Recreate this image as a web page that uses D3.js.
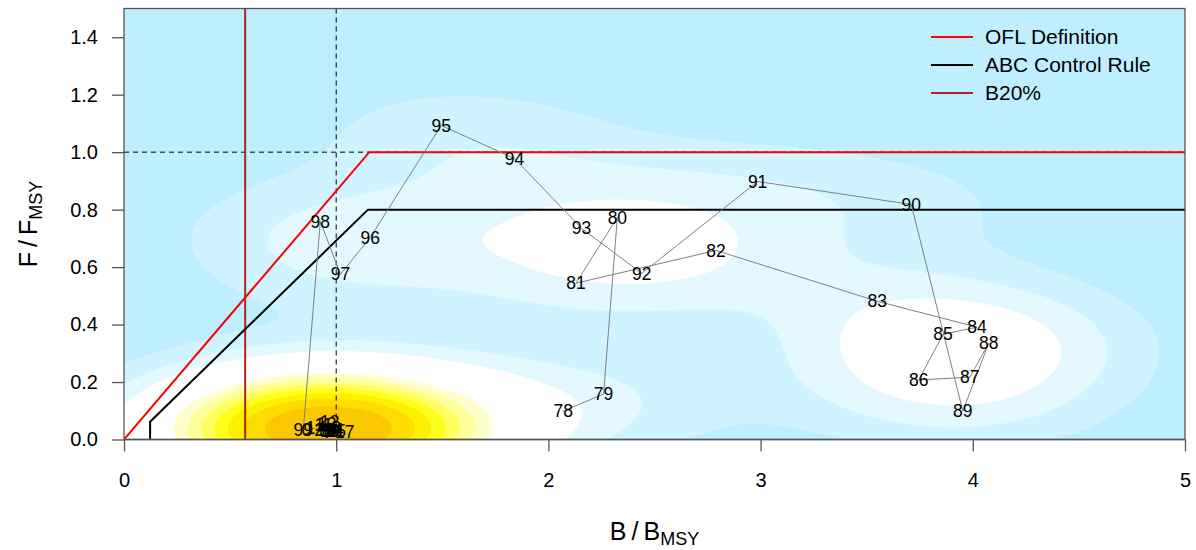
<!DOCTYPE html>
<html><head><meta charset="utf-8">
<script src="https://cdn.jsdelivr.net/npm/d3@7"></script>
<style>
body{margin:0;background:#fff;}
text{font-family:"Liberation Sans",Arial,sans-serif;fill:#000;}
</style></head>
<body><svg id="c" width="1196" height="550"></svg>
<script>
// ---------- data ----------
const yearLabels = ["78","79","80","81","82","83","84","85","86","87","88","89","90","91","92","93","94","95","96","97","98",
                    "99","0","1","2","3","4","5","6","7","8","9","10","11","12","13","14","15","16","17"];
const bRatio = [2.07,2.26,2.325,2.13,2.79,3.55,4.02,3.86,3.745,3.986,4.075,3.953,3.71,2.986,2.44,2.156,1.84,1.495,1.16,1.02,0.925,
                0.845,0.86,0.88,0.92,0.95,0.93,0.97,0.99,0.96,1.0,0.98,0.95,0.94,0.97,0.955,0.99,1.0,0.97,1.04];
const fRatio = [0.099,0.158,0.773,0.544,0.658,0.481,0.391,0.366,0.207,0.217,0.335,0.099,0.818,0.898,0.578,0.735,0.978,1.093,0.703,0.575,0.759,
                0.033,0.035,0.04,0.035,0.03,0.04,0.035,0.03,0.025,0.04,0.03,0.035,0.05,0.06,0.055,0.035,0.03,0.03,0.025];
const oflB = [0, 1.156, 5];
const oflF = [0, 1.0, 1.0];
const abcB = [0.123, 0.123, 1.15, 5];
const abcF = [0, 0.062, 0.8, 0.8];
const b20 = 0.571;
const xTicks = [0,1,2,3,4,5];
const yTicks = [0,0.2,0.4,0.6,0.8,1.0,1.2,1.4];
const legendLabels = ["OFL Definition","ABC Control Rule","B20%"];
const legendColors = ["#ff0000","#000000","#b22222"];
// kde2d-style bandwidths (B, F) and contour levels as fractions of the peak density
const kdeBandwidth = [2.12, 0.56];
const levelFractions = [0.055, 0.11, 0.17, 0.40, 0.47, 0.54, 0.61, 0.68, 0.76, 0.86];
const bandColors = ["#bfefff","#cff3ff","#e3f8ff","#ffffff","#ffffcc","#ffff99","#ffff5e","#ffff1e","#fff000","#ffdc00","#fbc700"];

// ---------- layout ----------
const svg = d3.select("#c");
const L=124, R=1185, T=8.5, B=439.5;
const x = d3.scaleLinear([0,5],[L,R]);
const y = d3.scaleLinear([0,1.5],[B,T]);

svg.append("clipPath").attr("id","clip").append("rect")
  .attr("x",L).attr("y",T).attr("width",R-L).attr("height",B-T);
const plot = svg.append("g").attr("clip-path","url(#clip)");

// ---------- kernel density (kde2d style) ----------
const sdx=kdeBandwidth[0]/4, sdy=kdeBandwidth[1]/4;
const nx=301, ny=91, sx=5/(nx-1), sy=1.5/(ny-1);
const vals=new Float64Array(nx*ny);
const n=bRatio.length;
for(let j=0;j<ny;j++){
  const gy=j*sy;
  for(let i=0;i<nx;i++){
    const gx=i*sx; let s=0;
    for(let k=0;k<n;k++){
      const dx=(gx-bRatio[k])/sdx, dy=(gy-fRatio[k])/sdy;
      s+=Math.exp(-0.5*(dx*dx+dy*dy));
    }
    vals[j*nx+i]=s/(n*2*Math.PI*sdx*sdy);
  }
}
const zmax=d3.max(vals);
const thresholds=levelFractions.map(f=>f*zmax);
const proj=d3.geoTransform({point(px,py){this.stream.point(x((px-0.5)*sx), y((py-0.5)*sy));}});
const path=d3.geoPath(proj);
plot.append("rect").attr("x",L).attr("y",T).attr("width",R-L).attr("height",B-T).attr("fill",bandColors[0]);
const cs=d3.contours().size([nx,ny]).thresholds(thresholds)(vals);
plot.selectAll("path.band").data(cs).join("path").attr("class","band")
  .attr("d",path).attr("fill",(d,i)=>bandColors[i+1]).attr("stroke",(d,i)=>bandColors[i+1]).attr("stroke-width",0.5);

// ---------- reference lines ----------
plot.append("line").attr("x1",L).attr("x2",R).attr("y1",y(1)).attr("y2",y(1))
  .attr("stroke","#000").attr("stroke-dasharray","5,4");
plot.append("line").attr("x1",x(1)).attr("x2",x(1)).attr("y1",T).attr("y2",B)
  .attr("stroke","#000").attr("stroke-dasharray","5,4");
plot.append("line").attr("x1",x(b20)).attr("x2",x(b20)).attr("y1",T).attr("y2",B)
  .attr("stroke","#b22222").attr("stroke-width",2);
const line=d3.line().x(d=>x(d[0])).y(d=>y(d[1]));
plot.append("path").attr("d",line(abcB.map((b,i)=>[b,abcF[i]]))).attr("fill","none").attr("stroke","#000").attr("stroke-width",2);
plot.append("path").attr("d",line(oflB.map((b,i)=>[b,oflF[i]]))).attr("fill","none").attr("stroke","#ff0000").attr("stroke-width",2);

// ---------- trajectory ----------
const pts=bRatio.map((b,i)=>[b,fRatio[i]]);
plot.append("path").attr("d",line(pts)).attr("fill","none").attr("stroke","#808080").attr("stroke-width",1);
plot.selectAll("text.yr").data(pts).join("text").attr("class","yr")
  .attr("x",d=>x(d[0])).attr("y",d=>y(d[1])).attr("dy","0.35em")
  .attr("text-anchor","middle").attr("font-size",17.5).text((d,i)=>yearLabels[i]);

// ---------- box and axes ----------
svg.append("rect").attr("x",L).attr("y",T).attr("width",R-L).attr("height",B-T)
  .attr("fill","none").attr("stroke","#555").attr("stroke-width",1.3);
const ax=svg.append("g").attr("transform",`translate(0,${B})`)
  .call(d3.axisBottom(x).tickValues(xTicks).tickFormat(d3.format("d")).tickSize(12).tickPadding(21));
const ay=svg.append("g").attr("transform",`translate(${L},0)`)
  .call(d3.axisLeft(y).tickValues(yTicks).tickFormat(d3.format(".1f")).tickSize(12).tickPadding(14));
[ax,ay].forEach(g=>{
  g.select(".domain").remove();
  g.selectAll(".tick line").attr("stroke","#555").attr("stroke-width",1.3);
  g.selectAll(".tick text").attr("font-size",20).attr("fill","#000").attr("font-family","Liberation Sans, Arial, sans-serif");
});
svg.append("line").attr("x1",L).attr("x2",R).attr("y1",B).attr("y2",B).attr("stroke","#555").attr("stroke-width",1.3);

// axis titles
const xt=svg.append("text").attr("x",(L+R)/2).attr("y",540).attr("text-anchor","middle").attr("font-size",25);
xt.append("tspan").text("B");
xt.append("tspan").attr("dx",5).text("/");
xt.append("tspan").attr("dx",5).text("B");
xt.append("tspan").attr("font-size",18).attr("dy",5).text("MSY");
const yt=svg.append("text").attr("transform",`translate(37,${(T+B)/2}) rotate(-90)`).attr("text-anchor","middle").attr("font-size",25);
yt.append("tspan").text("F");
yt.append("tspan").attr("dx",5).text("/");
yt.append("tspan").attr("dx",5).text("F");
yt.append("tspan").attr("font-size",18).attr("dy",5).text("MSY");

// legend
const lg=svg.append("g");
legendLabels.forEach((lab,i)=>{
  const yy=37+i*28;
  lg.append("line").attr("x1",931).attr("x2",973).attr("y1",yy).attr("y2",yy).attr("stroke",legendColors[i]).attr("stroke-width",2);
  lg.append("text").attr("x",985).attr("y",yy).attr("dy","0.35em").attr("font-size",21).text(lab);
});
</script></body></html>
